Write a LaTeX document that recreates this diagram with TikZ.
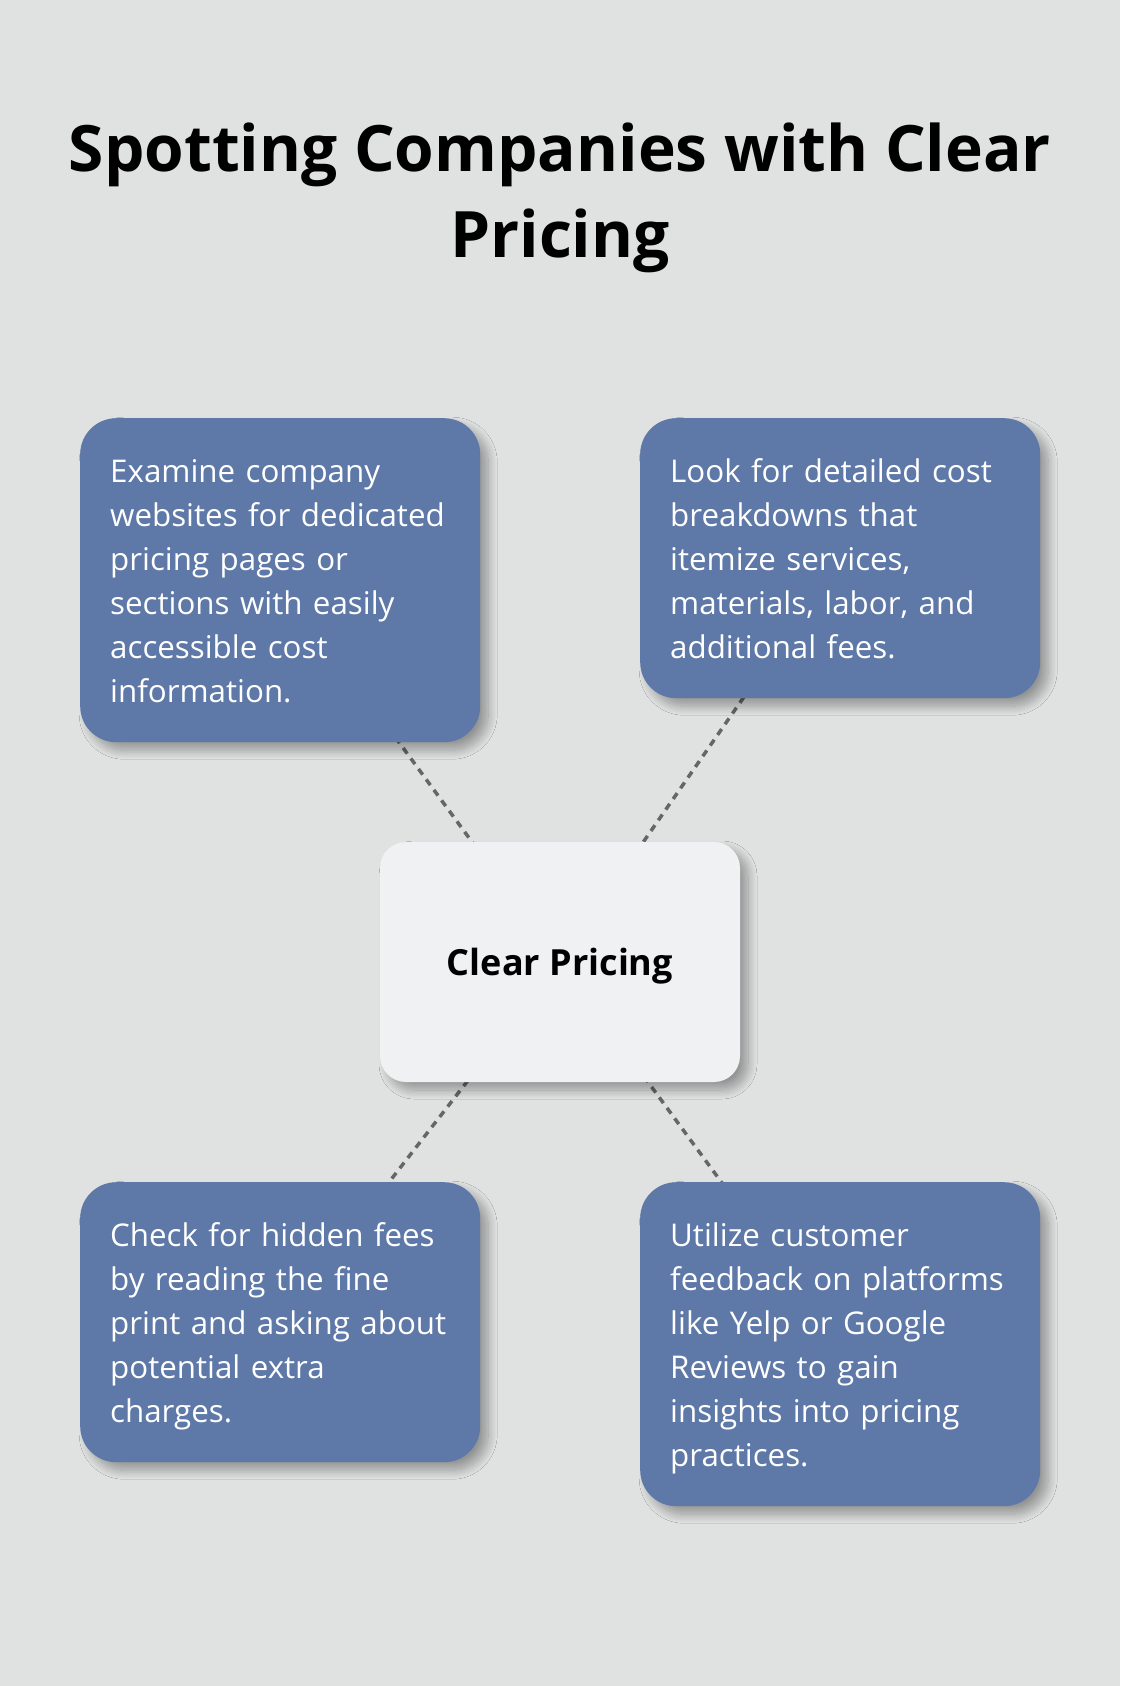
\documentclass[tikz,border=0pt]{standalone}
\usepackage{fontspec}
\setmainfont{Open Sans}
\usetikzlibrary{backgrounds,shadows.blur}
\definecolor{pagebg}{HTML}{E0E2E1}
\definecolor{tipblue}{HTML}{5E78A8}
\definecolor{hubfill}{HTML}{F0F1F3}
\definecolor{linkgray}{HTML}{666666}
\newcommand\lnstrut{\rule[-9.6pt]{0pt}{44pt}}
\hyphenpenalty=10000
\begin{document}
\begin{tikzpicture}[x=1pt, y=-1pt,
    softshadow/.style={blur shadow={shadow xshift=8pt, shadow yshift=-8pt,
        shadow blur radius=9pt, shadow blur steps=16, shadow opacity=34}},
    tip/.style={anchor=north west, fill=tipblue, text=white, rounded corners=36pt,
        text width=340pt, inner xsep=30pt, inner ysep=30pt, align=left,
        font=\fontsize{31.3}{44}\selectfont, softshadow},
    hub/.style={fill=hubfill, rounded corners=26pt, minimum width=360pt, minimum height=240pt,
        font=\fontsize{36}{44}\bfseries\selectfont, text height=26pt, text depth=0pt, softshadow},
    link/.style={linkgray, line width=3.5pt, dash pattern=on 7pt off 6pt}]
    \useasboundingbox (0,0) rectangle (1120,1686);

    % Title
    \node[anchor=north, inner sep=0pt, align=center, font=\fontsize{64}{86}\bfseries\selectfont]
        (title) at (560,111) {\rule{0pt}{60pt}Spotting Companies with Clear\\Pricing};

    % Hub and the four tips
    \node[hub] (hub) at (560,962) {Clear Pricing};
    \node[tip] (web) at (80,418) {\lnstrut Examine company\\\lnstrut websites for dedicated\\\lnstrut pricing pages or\\\lnstrut sections with easily\\\lnstrut accessible cost\\\lnstrut information.};
    \node[tip] (cost) at (640,418) {\lnstrut Look for detailed cost\\\lnstrut breakdowns that\\\lnstrut itemize services,\\\lnstrut materials, labor, and\\\lnstrut additional fees.};
    \node[tip] (fees) at (80,1182) {\lnstrut Check for hidden fees\\\lnstrut by reading the fine\\\lnstrut print and asking about\\\lnstrut potential extra\\\lnstrut charges.};
    \node[tip] (reviews) at (640,1182) {\lnstrut Utilize customer\\\lnstrut feedback on platforms\\\lnstrut like Yelp or Google\\\lnstrut Reviews to gain\\\lnstrut insights into pricing\\\lnstrut practices.};

    % Dashed links behind the boxes
    \begin{pgfonlayer}{background}
        \fill[pagebg] (0,0) rectangle (1120,1686);
        \draw[link] (web.center) -- (hub.center);
        \draw[link] (cost.center) -- (hub.center);
        \draw[link] (fees.center) -- (hub.center);
        \draw[link] (reviews.center) -- (hub.center);
    \end{pgfonlayer}
\end{tikzpicture}
\end{document}
